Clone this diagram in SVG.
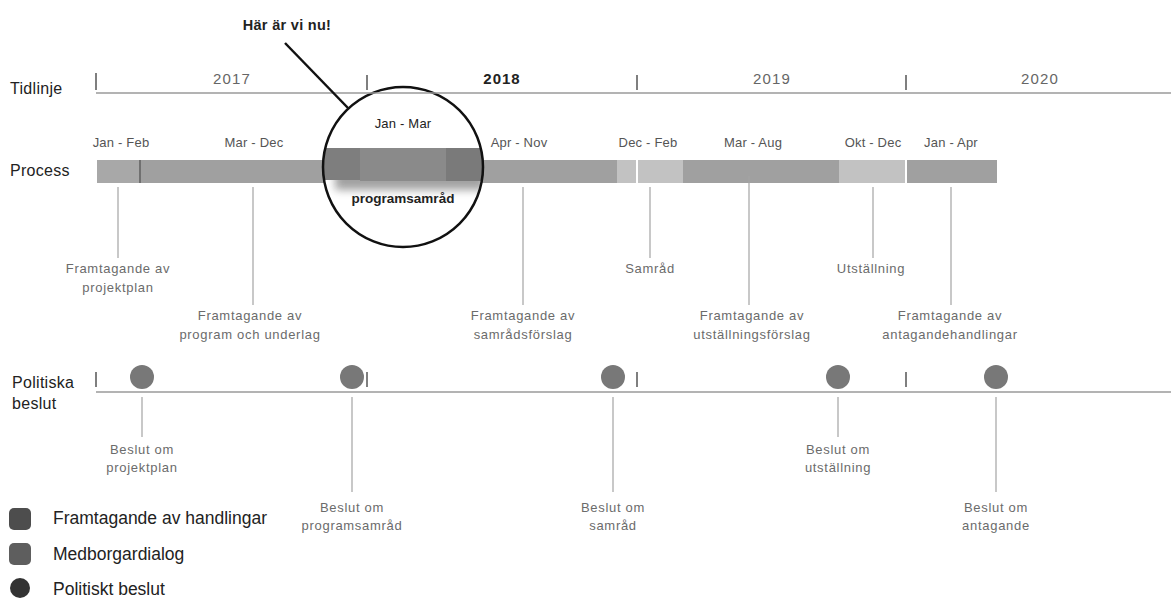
<svg xmlns="http://www.w3.org/2000/svg" width="1171" height="599" viewBox="0 0 1171 599">
  <style>
    .main { font-family: "Liberation Sans", Arial, sans-serif; font-size: 16px; fill: #222; letter-spacing: 0.3px; }
    .legend { font-family: "Liberation Sans", Arial, sans-serif; font-size: 17.5px; fill: #222; }
    .year { font-family: "Liberation Sans", Arial, sans-serif; font-size: 15px; fill: #666; letter-spacing: 1.2px; text-anchor: middle; }
    .yearb { font-family: "Liberation Sans", Arial, sans-serif; font-size: 15px; font-weight: bold; fill: #222; letter-spacing: 1px; text-anchor: middle; }
    .date { font-family: "Liberation Sans", Arial, sans-serif; font-size: 13px; fill: #555; text-anchor: middle; letter-spacing: 0.2px; }
    .small { font-family: "Liberation Sans", Arial, sans-serif; font-size: 13px; fill: #6b6b6b; text-anchor: middle; letter-spacing: 0.7px; }
    .bold { font-family: "Liberation Sans", Arial, sans-serif; font-weight: bold; fill: #222; text-anchor: middle; }
    .axis { stroke: #9a9a9a; stroke-width: 1.5; fill: none; }
    .tick { stroke: #555; stroke-width: 1.5; }
    .conn { stroke: #a3a3a3; stroke-width: 1.2; fill: none; }
    .dark { fill: #a0a0a0; }
    .light { fill: #c2c2c2; }
    .dot { fill: #787878; }
  </style>
  <defs>
    <clipPath id="lensClip"><circle cx="403" cy="167" r="80"/></clipPath>
    <filter id="blur" x="-20%" y="-50%" width="140%" height="200%"><feGaussianBlur stdDeviation="4"/></filter>
  </defs>

  <!-- Row labels -->
  <g id="row-labels">
    <text class="main" x="10" y="94">Tidlinje</text>
    <text class="main" x="10" y="176">Process</text>
    <text class="main" x="12" y="388">Politiska</text>
    <text class="main" x="12" y="409">beslut</text>
  </g>

  <!-- Timeline axis -->
  <g id="timeline">
    <line class="tick" x1="96" y1="73" x2="96" y2="90"/>
    <line class="tick" x1="367" y1="75" x2="367" y2="90"/>
    <line class="tick" x1="637" y1="75" x2="637" y2="90"/>
    <line class="tick" x1="906" y1="75" x2="906" y2="90"/>
    <text class="year" x="232" y="84">2017</text>
    <text class="yearb" x="502" y="84">2018</text>
    <text class="year" x="772" y="84">2019</text>
    <text class="year" x="1040" y="84">2020</text>
  </g>

  <!-- Process bar -->
  <g id="process-bar">
    <rect x="97" y="160" width="43" height="23" fill="#a8a8a8"/>
    <rect x="139" y="160" width="2" height="23" fill="#707070"/>
    <rect class="dark" x="141" y="160" width="476" height="23"/>
    <rect class="light" x="617" y="160" width="19" height="23"/>
    <rect class="light" x="638" y="160" width="45" height="23"/>
    <rect class="dark" x="683" y="160" width="156" height="23"/>
    <rect class="light" x="839" y="160" width="66" height="23"/>
    <rect class="dark" x="907" y="160" width="90" height="23"/>
  </g>
  <g id="process-dates">
    <text class="date" x="121" y="147">Jan - Feb</text>
    <text class="date" x="254" y="147">Mar - Dec</text>
    <text class="date" x="519" y="147">Apr - Nov</text>
    <text class="date" x="648" y="147">Dec - Feb</text>
    <text class="date" x="753" y="147">Mar - Aug</text>
    <text class="date" x="873" y="147">Okt - Dec</text>
    <text class="date" x="951" y="147">Jan - Apr</text>
  </g>

  <!-- Magnifier -->
  <g id="magnifier">
    <circle cx="403" cy="167" r="80" fill="#fff"/>
    <g clip-path="url(#lensClip)">
      <rect x="335" y="170" width="150" height="20" fill="#555" opacity="0.55" filter="url(#blur)"/>
      <rect x="320" y="148" width="40" height="32" fill="#7e7e7e"/>
      <rect x="360" y="148" width="86" height="33" fill="#8a8a8a"/>
      <rect x="446" y="148" width="42" height="33" fill="#7a7a7a"/>
    </g>
    <text class="date" x="403" y="128" style="fill:#222">Jan - Mar</text>
    <text class="bold" x="403" y="203" font-size="13.5">programsamråd</text>
    <circle cx="403" cy="167" r="80" fill="none" stroke="#111" stroke-width="2.5"/>
  </g>

  <line class="axis" x1="96" y1="93" x2="1171" y2="93"/>

  <!-- Here we are -->
  <g id="here-label">
    <text class="bold" x="287" y="30" font-size="14.5" letter-spacing="0.3">Här är vi nu!</text>
  </g>

  <!-- Political decisions axis -->
  <g id="politics-axis">
    <line class="axis" x1="96" y1="392" x2="1171" y2="392"/>
    <line class="tick" x1="96" y1="372" x2="96" y2="387"/>
    <line class="tick" x1="367" y1="372" x2="367" y2="387"/>
    <line class="tick" x1="637" y1="372" x2="637" y2="387"/>
    <line class="tick" x1="906" y1="372" x2="906" y2="387"/>
  </g>
  <g id="decision-dots">
    <circle class="dot" cx="142" cy="377" r="12"/>
    <circle class="dot" cx="352" cy="377" r="12"/>
    <circle class="dot" cx="613" cy="377" r="12"/>
    <circle class="dot" cx="838" cy="377" r="12"/>
    <circle class="dot" cx="996" cy="377" r="12"/>
  </g>

  <!-- Connectors -->
  <g id="connectors">
    <line x1="285" y1="43" x2="348" y2="108" stroke="#111" stroke-width="2.5"/>
    <line class="conn" x1="118" y1="187" x2="118" y2="258"/>
    <line class="conn" x1="253" y1="187" x2="253" y2="305"/>
    <line class="conn" x1="523" y1="187" x2="523" y2="305"/>
    <line class="conn" x1="650" y1="187" x2="650" y2="258"/>
    <line class="conn" x1="749" y1="176" x2="749" y2="305"/>
    <line class="conn" x1="873" y1="187" x2="873" y2="258"/>
    <line class="conn" x1="951" y1="187" x2="951" y2="305"/>
    <line class="conn" x1="142" y1="397" x2="142" y2="437"/>
    <line class="conn" x1="352" y1="397" x2="352" y2="492"/>
    <line class="conn" x1="613" y1="397" x2="613" y2="492"/>
    <line class="conn" x1="838" y1="397" x2="838" y2="437"/>
    <line class="conn" x1="996" y1="397" x2="996" y2="492"/>
  </g>

  <!-- Process labels -->
  <g id="n-projektplan">
    <text class="small" x="118" y="273">Framtagande av</text>
    <text class="small" x="118" y="292">projektplan</text>
  </g>
  <g id="n-program">
    <text class="small" x="250" y="320">Framtagande av</text>
    <text class="small" x="250" y="339">program och underlag</text>
  </g>
  <g id="n-samradsforslag">
    <text class="small" x="523" y="320">Framtagande av</text>
    <text class="small" x="523" y="339">samrådsförslag</text>
  </g>
  <g id="n-samrad">
    <text class="small" x="650" y="273">Samråd</text>
  </g>
  <g id="n-utstallningsforslag">
    <text class="small" x="752" y="320">Framtagande av</text>
    <text class="small" x="752" y="339">utställningsförslag</text>
  </g>
  <g id="n-utstallning">
    <text class="small" x="871" y="273">Utställning</text>
  </g>
  <g id="n-antagande">
    <text class="small" x="950" y="320">Framtagande av</text>
    <text class="small" x="950" y="339">antagandehandlingar</text>
  </g>

  <!-- Decision labels -->
  <g id="d-projektplan">
    <text class="small" x="142" y="454">Beslut om</text>
    <text class="small" x="142" y="472">projektplan</text>
  </g>
  <g id="d-programsamrad">
    <text class="small" x="352" y="512">Beslut om</text>
    <text class="small" x="352" y="530">programsamråd</text>
  </g>
  <g id="d-samrad">
    <text class="small" x="613" y="512">Beslut om</text>
    <text class="small" x="613" y="530">samråd</text>
  </g>
  <g id="d-utstallning">
    <text class="small" x="838" y="454">Beslut om</text>
    <text class="small" x="838" y="472">utställning</text>
  </g>
  <g id="d-antagande">
    <text class="small" x="996" y="512">Beslut om</text>
    <text class="small" x="996" y="530">antagande</text>
  </g>

  <!-- Legend -->
  <g id="legend">
    <rect x="9" y="508" width="22" height="22" rx="5" fill="#4d4d4d"/>
    <text class="legend" x="53" y="524">Framtagande av handlingar</text>
    <rect x="9" y="543" width="22" height="22" rx="5" fill="#5e5e5e"/>
    <text class="legend" x="53" y="560">Medborgardialog</text>
    <circle cx="20" cy="588" r="10" fill="#333"/>
    <text class="legend" x="53" y="595">Politiskt beslut</text>
  </g>
</svg>
